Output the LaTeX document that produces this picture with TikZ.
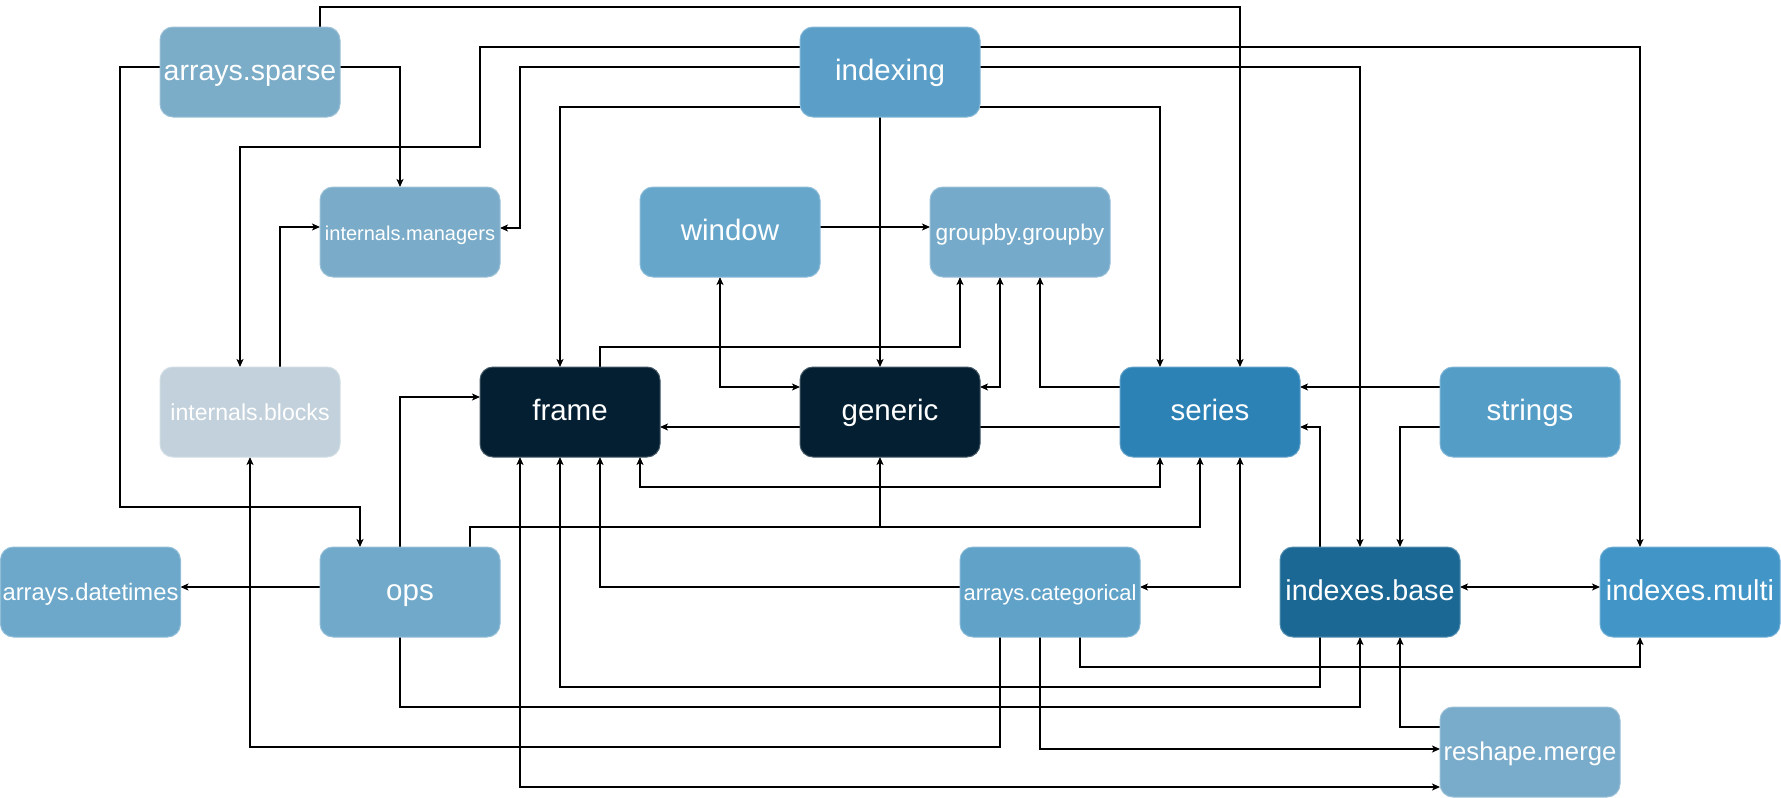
\documentclass[tikz,border=0pt]{standalone}
\usepackage{fontspec}
\setmainfont{Liberation Sans}
\usetikzlibrary{arrows.meta,backgrounds}
\definecolor{cSparse}{HTML}{7BACC8}
\definecolor{cMgr}{HTML}{7AACC9}
\definecolor{cBlocks}{HTML}{C2D1DB}
\definecolor{cIndexing}{HTML}{5B9FC8}
\definecolor{cWindow}{HTML}{67A6CB}
\definecolor{cGroupby}{HTML}{75AACA}
\definecolor{cDark}{HTML}{041F32}
\definecolor{cSeries}{HTML}{2C81B5}
\definecolor{cStrings}{HTML}{549DC7}
\definecolor{cOps}{HTML}{71A9CA}
\definecolor{cDatetimes}{HTML}{6DA8CA}
\definecolor{cCateg}{HTML}{60A2C8}
\definecolor{cIdxBase}{HTML}{1B6895}
\definecolor{cIdxMulti}{HTML}{4195C7}
\definecolor{cMerge}{HTML}{79ABCA}
\tikzset{
  mod/.style={rectangle, rounded corners=13pt, minimum width=180pt, minimum height=90pt,
    inner sep=0pt, outer sep=0pt, fill=#1, draw=#1!75!white, line width=1pt, text=white,
    font=\fontsize{29.5}{30}\selectfont, text height=22pt, text depth=4.5pt},
  arr/.style={line width=1.2pt, -{Stealth[length=8pt,width=7pt,inset=2pt]}},
  biarr/.style={line width=1.2pt, {Stealth[length=8pt,width=7pt,inset=2pt]}-{Stealth[length=8pt,width=7pt,inset=2pt]}}
}
\begin{document}
\begin{tikzpicture}[x=1pt,y=-1pt]
\useasboundingbox (0,0) rectangle (1781,798);
% nodes
\node[mod=cSparse, font=\fontsize{28.5}{29}\selectfont] (as) at (250,72) {arrays.sparse};
\node[mod=cIndexing] (ix) at (890,72) {indexing};
\node[mod=cMgr, font=\fontsize{20}{20}\selectfont] (im) at (410,232) {internals.managers};
\node[mod=cWindow] (wi) at (730,232) {window};
\node[mod=cGroupby, font=\fontsize{22.7}{23}\selectfont] (gb) at (1020,232) {groupby.groupby};
\node[mod=cBlocks, font=\fontsize{23.1}{23}\selectfont] (ib) at (250,412) {internals.blocks};
\node[mod=cDark] (fr) at (570,412) {frame};
\node[mod=cDark] (ge) at (890,412) {generic};
\node[mod=cSeries] (se) at (1210,412) {series};
\node[mod=cStrings] (st) at (1530,412) {strings};
\node[mod=cDatetimes, font=\fontsize{23.8}{24}\selectfont] (ad) at (90.5,592) {arrays.datetimes};
\node[mod=cOps] (op) at (410,592) {ops};
\node[mod=cCateg, font=\fontsize{21.9}{22}\selectfont] (ac) at (1050,592) {arrays.categorical};
\node[mod=cIdxBase, font=\fontsize{28.7}{29}\selectfont] (xb) at (1370,592) {indexes.base};
\node[mod=cIdxMulti, font=\fontsize{28.8}{29}\selectfont] (xm) at (1690,592) {indexes.multi};
\node[mod=cMerge, font=\fontsize{25.7}{26}\selectfont] (rm) at (1530,752) {reshape.merge};
% edges
\begin{pgfonlayer}{background}
\draw[arr] ([xshift=70pt]as.north) -- (320,7) -| ([xshift=30pt]se.north);
\draw[arr] ([yshift=5pt]as.west) -| (120,507) -| ([xshift=-50pt]op.north);
\draw[arr] ([yshift=5pt]as.east) -| ([xshift=-10pt]im.north);
\draw[arr] ([yshift=25pt]ix.west) -| (480,147) -| ([xshift=-10pt]ib.north);
\draw[arr] ([yshift=5pt]ix.west) -| (520,228) -- ([yshift=4pt]im.east);
\draw[arr] ([yshift=25pt]ix.east) -| ([xshift=-50pt]xm.north);
\draw[arr] ([yshift=5pt]ix.east) -| ([xshift=-10pt]xb.north);
\draw[arr] ([yshift=-35pt]ix.west) -| ([xshift=-10pt]fr.north);
\draw[arr] ([yshift=-35pt]ix.east) -| ([xshift=-50pt]se.north);
\draw[arr] ([xshift=-10pt]ix.south) -- ([xshift=-10pt]ge.north);
\draw[arr] ([yshift=5pt]wi.east) -- ([yshift=5pt]gb.west);
\draw[biarr] ([xshift=-10pt]wi.south) |- ([yshift=25pt]ge.west);
\draw[arr] ([xshift=30pt]fr.north) |- (960,347) -- ([xshift=-60pt]gb.south);
\draw[biarr] ([yshift=25pt]ge.east) -| ([xshift=-20pt]gb.south);
\draw[arr] ([yshift=25pt]se.west) -| ([xshift=20pt]gb.south);
\draw[arr] ([yshift=25pt]st.west) -- ([yshift=25pt]se.east);
\draw[arr] ([yshift=-15pt]se.west) -- ([yshift=-15pt]fr.east);
\draw[biarr] ([xshift=70pt]fr.south) -- (640,487) -| ([xshift=-50pt]se.south);
\draw[arr] ([xshift=60pt]op.north) |- (880,527) -- ([xshift=-10pt]ge.south);
\draw[arr] ([xshift=60pt]op.north) -- (470,527) -| ([xshift=-10pt]se.south);
\draw[arr] ([yshift=5pt]ac.west) -| ([xshift=30pt]fr.south);
\draw[biarr] ([xshift=-50pt]fr.south) |- ([yshift=-35pt]rm.west);
\draw[arr] ([xshift=-50pt]xb.south) -- (1320,687) -| ([xshift=-10pt]fr.south);
\draw[arr] ([xshift=-10pt]op.south) -- (400,707) -| ([xshift=-10pt]xb.south);
\draw[arr] ([yshift=5pt]op.west) -- ([yshift=5pt]ad.east);
\draw[arr] ([xshift=-50pt]ac.south) -- (1000,747) -| (ib.south);
\draw[arr] ([xshift=-10pt]ac.south) |- ([yshift=3pt]rm.west);
\draw[arr] ([xshift=30pt]ac.south) -- (1080,667) -| ([xshift=-50pt]xm.south);
\draw[biarr] ([xshift=30pt]se.south) |- ([yshift=5pt]ac.east);
\draw[arr] ([xshift=-50pt]xb.north) |- ([yshift=-15pt]se.east);
\draw[arr] ([yshift=-15pt]st.west) -| ([xshift=30pt]xb.north);
\draw[biarr] ([yshift=5pt]xb.east) -- ([yshift=5pt]xm.west);
\draw[arr] ([yshift=25pt]rm.west) -| ([xshift=30pt]xb.south);
\draw[arr] ([xshift=30pt]ib.north) |- ([yshift=5pt]im.west);
\draw[arr] ([xshift=-10pt]op.north) |- ([yshift=15pt]fr.west);
\end{pgfonlayer}
\end{tikzpicture}
\end{document}
